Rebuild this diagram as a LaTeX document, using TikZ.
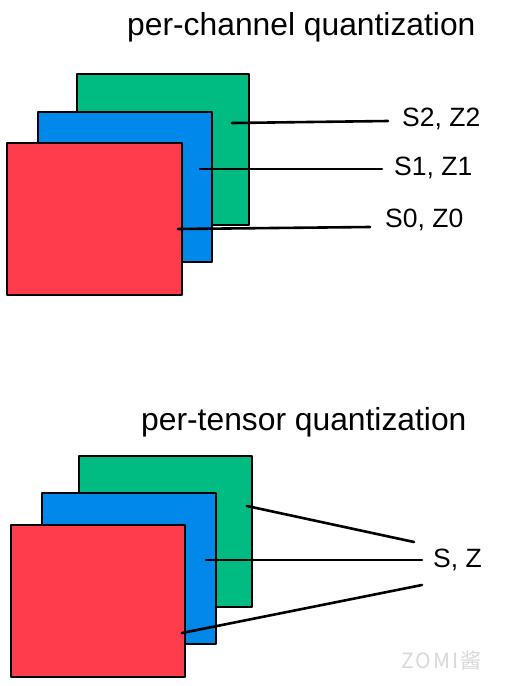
\documentclass[tikz,border=0pt]{standalone}
\usepackage{fontspec}
\setmainfont{Liberation Sans}
\newfontfamily\cjkfont[LetterSpace=10]{Noto Sans CJK SC}
\definecolor{cgreen}{RGB}{0,188,131}
\definecolor{cblue}{RGB}{0,137,234}
\definecolor{cred}{RGB}{255,60,76}
\begin{document}
\begin{tikzpicture}[x=1pt,y=-1pt,
  sheet/.style={draw=black, line width=2.8pt, line join=round, anchor=north west,
    inner sep=0pt, outer sep=0pt},
  title/.style={anchor=base west, inner sep=0pt, font=\fontsize{31.8}{38}\selectfont},
  lbl/.style={anchor=base west, inner sep=0pt, font=\fontsize{26.5}{32}\selectfont},
  link/.style={draw=black, line width=2.6pt, line cap=round}]
\useasboundingbox (0,0) rectangle (508,686);
\fill[white] (0,0) rectangle (508,686);

% ---- per-channel ----
\node[title] (t1) at (127,35) {per-channel quantization};
\node[sheet, fill=cgreen, minimum width=172pt, minimum height=151pt] (g1) at (77,74) {};
\node[sheet, fill=cblue, minimum width=174pt, minimum height=150pt] (b1) at (38,112) {};
\node[sheet, fill=cred, minimum width=175pt, minimum height=152pt] (r1) at (7,143) {};

\node[lbl] (s2) at (402,126) {S2, Z2};
\node[lbl] (s1) at (394,175) {S1, Z1};
\node[lbl] (s0) at (385,227) {S0, Z0};

\coordinate (a2) at (232,123); \coordinate (e2) at (388,121);
\coordinate (a1) at (200,169); \coordinate (e1) at (382,169);
\coordinate (a0) at (178,229); \coordinate (e0) at (370,227);
\draw[link] (a2) -- (e2);
\draw[link] (a1) -- (e1);
\draw[link] (a0) -- (e0);

% ---- per-tensor ----
\node[title] (t2) at (141,430) {per-tensor quantization};
\node[sheet, fill=cgreen, minimum width=173pt, minimum height=151pt] (g2) at (79,456) {};
\node[sheet, fill=cblue, minimum width=174pt, minimum height=151pt] (b2) at (42,493) {};
\node[sheet, fill=cred, minimum width=174pt, minimum height=152pt] (r2) at (11,525) {};

\node[lbl] (sz) at (433,567) {S, Z};

\coordinate (c2) at (247,506); \coordinate (d2) at (414,542);
\coordinate (c1) at (206,560); \coordinate (d1) at (422,560);
\coordinate (c0) at (182,633); \coordinate (d0) at (422,585);
\draw[link] (c2) -- (d2);
\draw[link] (c1) -- (d1);
\draw[link] (c0) -- (d0);

% ---- watermark ----
\node[anchor=west, inner sep=0pt, text=gray!30, font=\cjkfont\fontsize{21}{24}\selectfont] (wm) at (401,660) {ZOMI酱};
\end{tikzpicture}
\end{document}
